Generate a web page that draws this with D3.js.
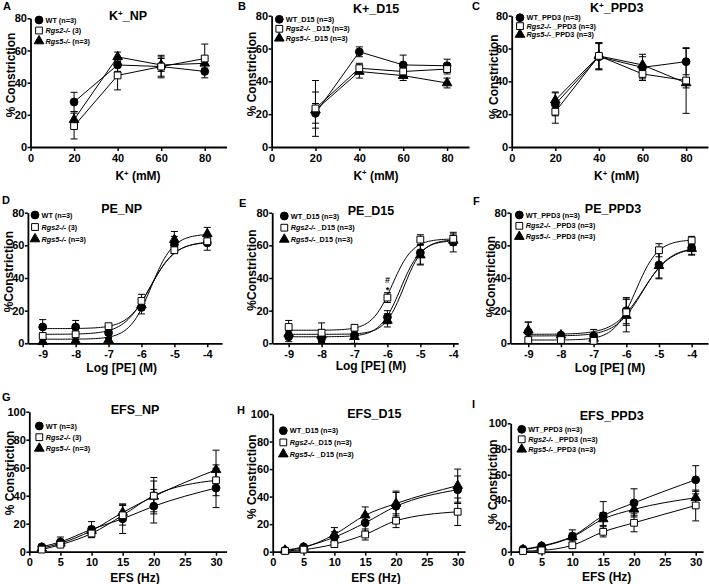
<!DOCTYPE html>
<html>
<head>
<meta charset="utf-8">
<script src="https://d3js.org/d3.v7.min.js"></script>
<style>
    body { margin: 0; background: #fff; }
    #chart { display: block; }
    #chart text { font-family: "Liberation Sans", Arial, sans-serif; font-weight: bold; fill: #000; }
</style>
</head>
<body>
<svg id="chart"></svg>
<script>
const width = 709, height = 584;

// x values of the three protocols
const kConc = [20, 40, 60, 80];
const peLog = [-9, -8, -7, -6, -5, -4];
const efsHz = [2, 5, 10, 15, 20, 30];

// rows in every array: WT, Rgs2-/-, Rgs5-/-
const kNP_mean = [[28, 51, 50, 47], [13, 44.5, 50, 55], [17, 56, 51, 52]];
const kNP_sem = [[6, 4, 6, 4], [8, 9, 7, 9], [5, 3, 4, 3]];
const kD15_mean = [[20.5, 58, 50, 49.5], [23.5, 48, 46, 47.5], [22.5, 46, 43.5, 39]];
const kD15_sem = [[6, 3, 6, 4], [17, 3, 3, 3], [11, 4, 3, 3]];
const kPPD3_mean = [[26, 55, 48.5, 52], [21.5, 55.5, 44.5, 40.5], [28.5, 55.5, 50, 39]];
const kPPD3_sem = [[7, 8, 8, 8], [7, 8, 3, 20], [5, 8, 5, 3]];

const peNP_mean = [[10, 10, 6.5, 22, 60.5, 61.5], [4.5, 5.5, 10.5, 26, 57, 62.5], [1, 1.5, 2, 23.5, 63.5, 67]];
const peNP_sem = [[4.5, 4, 3, 4, 5, 4.5], [1, 2, 1, 4, 2, 2], [1, 1, 1, 3, 5, 4]];
const peD15_mean = [[4, 3, 5, 16, 55.5, 62], [10, 6.5, 9.5, 28, 63.5, 64], [6, 5, 4, 14, 54, 63]];
const peD15_sem = [[3, 2, 2, 4, 7, 6], [4, 6, 1, 3, 3, 3], [2, 3, 4, 4, 6, 3]];
const pePPD3_mean = [[7, 5, 4.5, 20, 48, 58.5], [2, 2, 1.5, 19, 57, 63], [8, 5, 3, 17, 47.5, 58]];
const pePPD3_sem = [[6, 1, 4, 8, 8, 4], [1.5, 1, 1.5, 8, 4, 2.5], [5, 1, 2, 10, 8, 4]];

// sigmoid fits as drawn: [bottom, top, logEC50, hill]
const peNP_fit = [[9, 62, -5.7, 1.2], [5.5, 62.5, -5.75, 1.1], [2.5, 67, -5.7, 1.3]];
const peD15_fit = [[4, 63, -5.6, 1.4], [8, 64, -5.85, 1.4], [5.5, 63.5, -5.5, 1.5]];
const pePPD3_fit = [[5.5, 59, -5.5, 1.0], [2, 63.5, -5.7, 1.3], [4.5, 59, -5.5, 1.05]];

const efsNP_mean = [[3.5, 7, 16, 23.5, 32.5, 45.5], [1.5, 5, 13, 26, 40, 51], [2.5, 6, 15, 28, 39.5, 58.5]];
const efsNP_sem = [[1, 3.5, 5.5, 10.5, 12, 14], [1, 1.5, 3, 7, 13, 11], [1, 1.5, 3, 6, 11, 14]];
const efsD15_mean = [[1, 3.5, 10.5, 21, 33, 45], [0.5, 1.5, 5.5, 12.5, 22.5, 29], [1, 3, 12.5, 26.5, 35, 48]];
const efsD15_sem = [[1, 1.5, 4, 6, 10, 10], [0.5, 1, 1.5, 4, 5, 10], [0.5, 1, 5, 6, 9, 12]];
const efsPPD3_mean = [[2, 4.5, 12, 28, 38, 56], [0.5, 1, 5, 15.5, 22.5, 36], [1.5, 4, 11.5, 25.5, 33, 42]];
const efsPPD3_sem = [[1, 1, 5, 11, 11, 11], [0.5, 0.5, 2, 4, 7, 12], [0.5, 1, 3, 5, 5, 5]];

// legend labels: [text, italic]
const legNP = [[["WT (n=3)", 0]], [["Rgs2-/-", 1], [" (3)", 0]], [["Rgs5-/-", 1], [" (n=3)", 0]]];
const legD15 = [[["WT_D15 (n=3)", 0]], [["Rgs2-/-", 1], [" _D15 (n=3)", 0]], [["Rgs5-/-", 1], ["_D15 (n=3)", 0]]];
const legPPD3 = [[["WT_PPD3 (n=3)", 0]], [["Rgs2-/-", 1], [" _PPD3 (n=3)", 0]], [["Rgs5-/-", 1], ["_PPD3 (n=3)", 0]]];
const legPPD3b = [[["WT_PPD3 (n=3)", 0]], [["Rgs2-/-", 1], [" _PPD3 (n=3)", 0]], [["Rgs5-/-", 1], [" _PPD3 (n=3)", 0]]];
const legD15b = [[["WT_D15 (n=3)", 0]], [["Rgs2-/-", 1], ["_D15 (n=3)", 0]], [["Rgs5-/-", 1], [" _D15 (n=3)", 0]]];

const kTicks = [0, 20, 40, 60, 80];
const peTicks = [-9, -8, -7, -6, -5, -4];
const efsTicks = [0, 5, 10, 15, 20, 25, 30];
const y80Ticks = [0, 20, 40, 60, 80];
const y100Ticks = [0, 20, 40, 60, 80, 100];

// title / label parts: [text, superscript]
const kXLabel = [["K", 0], ["+", 1], [" (mM)", 0]];
const peXLabel = [["Log [PE] (M)", 0]];
const efsXLabel = [["EFS (Hz)", 0]];

const panels = [
    { letter: "A", title: [["K", 0], ["+", 1], ["_NP", 0]], xlab: kXLabel, ylab: "% Constriction", kind: "k",
      xs: kConc, mean: kNP_mean, sem: kNP_sem, leg: legNP, xt: kTicks, yt: y80Ticks,
      xd: [0, 90], xr: [30.5, 226.5], yd: [0, 80], yr: [147, 18.3],
      lp: [3, 9.5], tp: [128, 20], xp: [138, 180], yp: [15, 75], lg: [39, 20, 10.5] },
    { letter: "B", title: [["K+_D15", 0]], xlab: kXLabel, ylab: "% Constriction", kind: "k",
      xs: kConc, mean: kD15_mean, sem: kD15_sem, leg: legD15, xt: kTicks, yt: y80Ticks,
      xd: [0, 90], xr: [271.6, 469], yd: [0, 80], yr: [147, 15.7],
      lp: [238, 10], tp: [376, 12.5], xp: [376, 179.5], yp: [256, 74], lg: [279.3, 19.3, 9.5] },
    { letter: "C", title: [["K", 0], ["+", 1], ["_PPD3", 0]], xlab: kXLabel, ylab: "% Constriction", kind: "k",
      xs: kConc, mean: kPPD3_mean, sem: kPPD3_sem, leg: legPPD3, xt: kTicks, yt: y80Ticks,
      xd: [0, 90], xr: [511.7, 707.9], yd: [0, 80], yr: [147, 15.7],
      lp: [472, 10], tp: [616.7, 12], xp: [616.7, 180], yp: [497.5, 76.7], lg: [520, 17.7, 8.4] },
    { letter: "D", title: [["PE_NP", 0]], xlab: peXLabel, ylab: "%Constriction", kind: "pe",
      xs: peLog, mean: peNP_mean, sem: peNP_sem, fit: peNP_fit, leg: legNP, xt: peTicks, yt: y80Ticks,
      xd: [-9.45, -3.55], xr: [27.9, 222.1], yd: [0, 80], yr: [343.3, 212.7],
      lp: [2, 204], tp: [121.7, 213.3], xp: [121.7, 371.7], yp: [13, 271.7], lg: [35, 215, 12] },
    { letter: "E", title: [["PE_D15", 0]], xlab: peXLabel, ylab: "%Constriction", kind: "pe",
      xs: peLog, mean: peD15_mean, sem: peD15_sem, fit: peD15_fit, leg: legD15, xt: peTicks, yt: y80Ticks,
      xd: [-9.5, -3.85], xr: [272.2, 458.2], yd: [0, 80], yr: [343.3, 212.7],
      lp: [239, 206.7], tp: [371, 215], xp: [371, 370], yp: [256, 270], lg: [284.3, 216, 11.7] },
    { letter: "F", title: [["PE_PPD3", 0]], xlab: peXLabel, ylab: "%Constriction", kind: "pe",
      xs: peLog, mean: pePPD3_mean, sem: pePPD3_sem, fit: pePPD3_fit, leg: legPPD3b, xt: peTicks, yt: y80Ticks,
      xd: [-9.55, -3.5], xr: [510.3, 708], yd: [0, 80], yr: [343.3, 212.7],
      lp: [473, 205], tp: [613, 213.3], xp: [610, 371.7], yp: [495, 276.7], lg: [519.3, 215, 10.8] },
    { letter: "G", title: [["EFS_NP", 0]], xlab: efsXLabel, ylab: "% Constriction", kind: "efs",
      xs: efsHz, mean: efsNP_mean, sem: efsNP_sem, leg: legNP, xt: efsTicks, yt: y100Ticks,
      xd: [0, 31.7], xr: [29.3, 226.6], yd: [0, 100], yr: [551.7, 411.7],
      lp: [2, 400.7], tp: [135, 414], xp: [135, 581.5], yp: [13.5, 473], lg: [39.3, 426, 11.2] },
    { letter: "H", title: [["EFS_D15", 0]], xlab: efsXLabel, ylab: "% Constriction", kind: "efs",
      xs: efsHz, mean: efsD15_mean, sem: efsD15_sem, leg: legD15b, xt: efsTicks, yt: y100Ticks,
      xd: [0, 31.2], xr: [272.7, 465.1], yd: [0, 100], yr: [551.7, 414],
      lp: [237, 414], tp: [374.3, 418.3], xp: [376, 581.5], yp: [256, 476.7], lg: [283.3, 430.7, 11.7] },
    { letter: "I", title: [["EFS_PPD3", 0]], xlab: efsXLabel, ylab: "% Constriction", kind: "efs",
      xs: efsHz, mean: efsPPD3_mean, sem: efsPPD3_sem, leg: legPPD3, xt: efsTicks, yt: y100Ticks,
      xd: [0, 31.2], xr: [510.7, 703.1], yd: [0, 100], yr: [551.7, 423.3],
      lp: [472, 408.3], tp: [611.7, 420], xp: [606.7, 581], yp: [496.5, 481.7], lg: [521.7, 429.3, 10] }
];

const shapes = [d3.symbolCircle, d3.symbolSquare, d3.symbolTriangle];
const shapeSize = [48, 46, 40];
const fills = ["#000", "#fff", "#000"];

const svg = d3.select("#chart")
    .attr("width", width)
    .attr("height", height);

svg.append("rect").attr("width", width).attr("height", height).attr("fill", "#fff");

function richText(sel, parts, size) {
    parts.forEach(([t, sup], i) => {
        const ts = sel.append("tspan").text(t);
        if (sup) ts.attr("font-size", size * 0.65).attr("dy", -size * 0.35);
        else if (i > 0 && parts[i - 1][1]) ts.attr("dy", size * 0.35);
    });
}

const sigmoid = (p, x) => p[0] + (p[1] - p[0]) / (1 + Math.pow(10, (p[2] - x) * p[3]));

panels.forEach(p => {
    const g = svg.append("g");
    const x = d3.scaleLinear().domain(p.xd).range(p.xr);
    const y = d3.scaleLinear().domain(p.yd).range(p.yr);

    // axes
    const xa = g.append("g")
        .attr("transform", `translate(0,${p.yr[0]})`)
        .call(d3.axisBottom(x).tickValues(p.xt).tickFormat(d => String(d))
            .tickSize(4).tickSizeOuter(0).tickPadding(3));
    const ya = g.append("g")
        .attr("transform", `translate(${p.xr[0]},0)`)
        .call(d3.axisLeft(y).tickValues(p.yt).tickFormat(d => String(d))
            .tickSize(3).tickSizeOuter(0).tickPadding(0.5));
    [xa, ya].forEach(a => {
        a.select(".domain").attr("stroke-width", 1.8);
        a.selectAll(".tick line").attr("stroke-width", 1.5);
        a.selectAll("text").attr("font-size", 11);
    });

    // connecting lines / fitted curves
    p.mean.forEach((m, si) => {
        let pts;
        let line = d3.line().x(d => x(d[0])).y(d => y(d[1]));
        if (p.kind === "pe") {
            pts = d3.range(p.xs[0], p.xs[p.xs.length - 1] + 0.001, 0.05).map(v => [v, sigmoid(p.fit[si], v)]);
        } else {
            pts = p.xs.map((v, i) => [v, m[i]]);
            if (p.kind === "efs") line = line.curve(d3.curveMonotoneX);
        }
        g.append("path").attr("d", line(pts))
            .attr("fill", "none").attr("stroke", "#000").attr("stroke-width", 1);
    });

    // error bars
    p.mean.forEach((m, si) => {
        m.forEach((v, i) => {
            const cx = x(p.xs[i]), lo = y(v - p.sem[si][i]), hi = y(v + p.sem[si][i]);
            g.append("line").attr("x1", cx).attr("x2", cx).attr("y1", lo).attr("y2", hi)
                .attr("stroke", "#000").attr("stroke-width", 1);
            [lo, hi].forEach(yy => g.append("line")
                .attr("x1", cx - 3.5).attr("x2", cx + 3.5).attr("y1", yy).attr("y2", yy)
                .attr("stroke", "#000").attr("stroke-width", 1));
        });
    });

    // markers (triangles on top of circles, squares last)
    [0, 2, 1].forEach(si => {
        p.mean[si].forEach((v, i) => {
            g.append("path")
                .attr("d", d3.symbol(shapes[si], shapeSize[si])())
                .attr("transform", `translate(${x(p.xs[i])},${y(v)})`)
                .attr("fill", fills[si]).attr("stroke", "#000").attr("stroke-width", 1);
        });
    });

    // legend
    p.leg.forEach((parts, i) => {
        const ly = p.lg[1] + i * p.lg[2];
        g.append("path")
            .attr("d", d3.symbol(shapes[i], shapeSize[i])())
            .attr("transform", `translate(${p.lg[0]},${ly})`)
            .attr("fill", fills[i]).attr("stroke", "#000").attr("stroke-width", 1);
        const t = g.append("text").attr("x", p.lg[0] + 6.5).attr("y", ly + 2.6).attr("font-size", 7.3);
        parts.forEach(([s, it]) => t.append("tspan").text(s).attr("font-style", it ? "italic" : "normal"));
    });

    // texts
    g.append("text").attr("x", p.lp[0]).attr("y", p.lp[1]).attr("font-size", 11).text(p.letter);
    const tt = g.append("text").attr("x", p.tp[0]).attr("y", p.tp[1])
        .attr("text-anchor", "middle").attr("font-size", 12.5);
    richText(tt, p.title, 12.5);
    const xt = g.append("text").attr("x", p.xp[0]).attr("y", p.xp[1])
        .attr("text-anchor", "middle").attr("font-size", 12);
    richText(xt, p.xlab, 12);
    g.append("text")
        .attr("transform", `translate(${p.yp[0]},${p.yp[1]}) rotate(-90)`)
        .attr("text-anchor", "middle").attr("font-size", 12)
        .text(p.ylab);

    if (p.letter === "E") {
        g.append("text").attr("x", x(-6)).attr("y", 283).attr("text-anchor", "middle")
            .attr("font-size", 9).text("#");
        g.append("text").attr("x", x(-6)).attr("y", 293).attr("text-anchor", "middle")
            .attr("font-size", 9).text("*");
    }
});
</script>
</body>
</html>
